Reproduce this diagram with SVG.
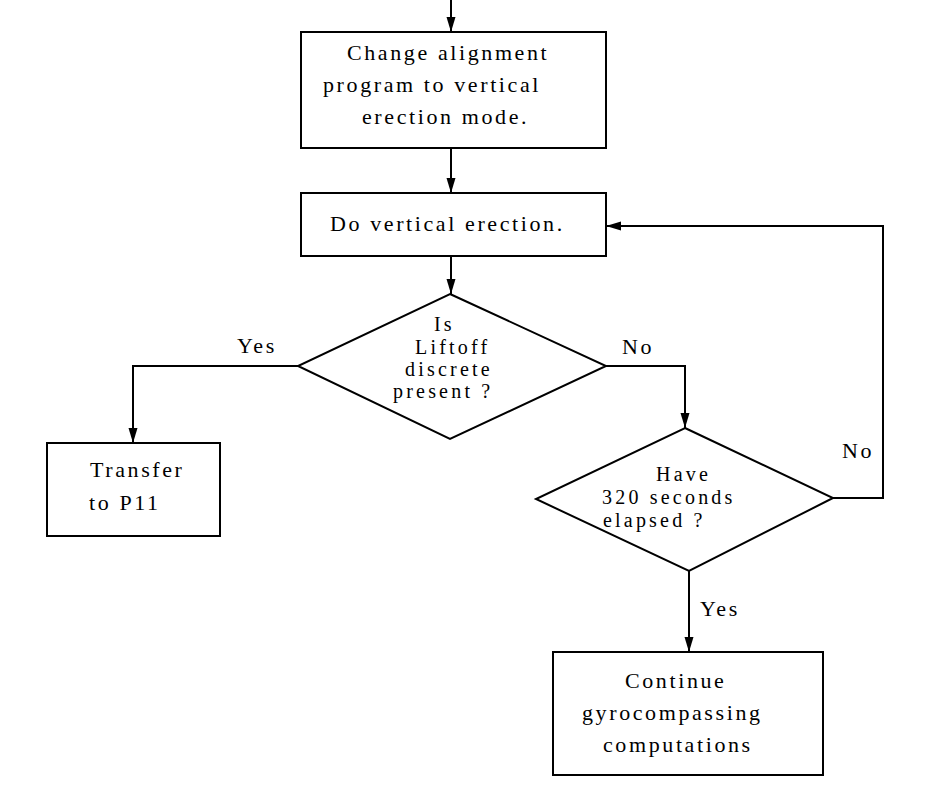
<svg xmlns="http://www.w3.org/2000/svg" width="928" height="796" viewBox="0 0 928 796">
<defs>
<marker id="arr" markerUnits="userSpaceOnUse" markerWidth="16" markerHeight="10" refX="15" refY="4.5" orient="auto">
<path d="M0,0 L15,4.5 L0,9 z" fill="#000"/>
</marker>
<style>
.box{fill:#fff;stroke:#000;stroke-width:2}
.ln{fill:none;stroke:#000;stroke-width:2}
.t{font-family:"Liberation Serif","Times New Roman",serif;font-size:22px;letter-spacing:2.6px;fill:#000}
.d{font-size:20px;letter-spacing:3.2px}
</style>
</defs>
<rect width="928" height="796" fill="#fff"/>
<g id="connectors">
<path class="ln" d="M451,0 V32" marker-end="url(#arr)"/>
<path class="ln" d="M451,148 V193" marker-end="url(#arr)"/>
<path class="ln" d="M451,256 V294" marker-end="url(#arr)"/>
<path class="ln" d="M298,366 H133 V443" marker-end="url(#arr)"/>
<path class="ln" d="M606,366 H685 V428" marker-end="url(#arr)"/>
<path class="ln" d="M833,498 H883 V226 H606" marker-end="url(#arr)"/>
<path class="ln" d="M689,571 V652" marker-end="url(#arr)"/>
<text class="t" x="237" y="353">Yes</text>
<text class="t" x="622" y="354">No</text>
<text class="t" x="842" y="458">No</text>
<text class="t" x="700" y="616">Yes</text>
</g>
<g id="n1">
<rect class="box" x="301" y="32" width="305" height="116"/>
<text class="t" x="347" y="60">Change alignment</text>
<text class="t" x="323" y="92">program to vertical</text>
<text class="t" x="362" y="124">erection mode.</text>
</g>
<g id="n2">
<rect class="box" x="301" y="193" width="305" height="63"/>
<text class="t" x="330" y="231">Do vertical erection.</text>
</g>
<g id="d1">
<polygon class="box" points="450,294 606,366 450,439 298,366"/>
<text class="t d" x="434" y="331">Is</text>
<text class="t d" x="415" y="354">Liftoff</text>
<text class="t d" x="405" y="376">discrete</text>
<text class="t d" x="393" y="398">present ?</text>
</g>
<g id="n3">
<rect class="box" x="47" y="443" width="173" height="93"/>
<text class="t" x="90" y="477">Transfer</text>
<text class="t" x="89" y="510">to P11</text>
</g>
<g id="d2">
<polygon class="box" points="685,428 833,498 689,571 536,499"/>
<text class="t d" x="656" y="481">Have</text>
<text class="t d" x="602" y="504">320 seconds</text>
<text class="t d" x="603" y="527">elapsed ?</text>
</g>
<g id="n4">
<rect class="box" x="553" y="652" width="270" height="123"/>
<text class="t" x="625" y="688">Continue</text>
<text class="t" x="582" y="720">gyrocompassing</text>
<text class="t" x="603" y="752">computations</text>
</g>
</svg>
